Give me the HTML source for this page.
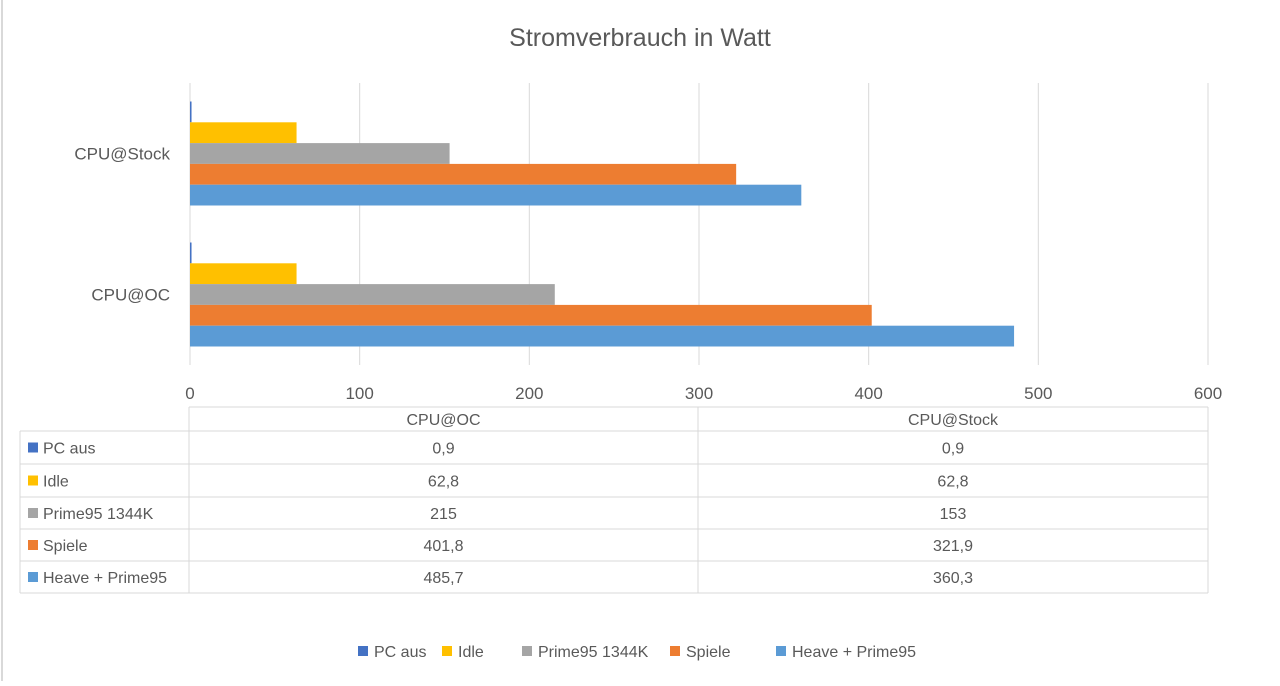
<!DOCTYPE html>
<html><head><meta charset="utf-8"><style>
body{margin:0;background:#fff;font-family:"Liberation Sans","DejaVu Sans",sans-serif;color:#595959}
svg text{font-family:"Liberation Sans","DejaVu Sans",sans-serif;fill:#595959}
</style></head><body>
<svg width="1280" height="681">
<line x1="2" y1="0" x2="2" y2="681" stroke="#d9d9d9" stroke-width="2"/>
<text x="640" y="46" font-size="25" text-anchor="middle">Stromverbrauch in Watt</text>
<g id="grid"></g><g id="bars"></g><g id="cats"></g><g id="ticks"></g><g id="table"></g><g id="legend"></g>
</svg>
<script>
const categories=["CPU@Stock","CPU@OC"];
const seriesNames=["PC aus","Idle","Prime95 1344K","Spiele","Heave + Prime95"];
const pcAus=[0.9,0.9];
const idle=[62.8,62.8];
const prime=[153,215];
const spiele=[321.9,401.8];
const heave=[360.3,485.7];
const tickValues=[0,100,200,300,400,500,600];
const tableCats=["CPU@OC","CPU@Stock"];
const tableVals=[["0,9","0,9"],["62,8","62,8"],["215","153"],["401,8","321,9"],["485,7","360,3"]];
const colors=["#4472c4","#ffc000","#a5a5a5","#ed7d31","#5b9bd5"];
const series=[pcAus,idle,prime,spiele,heave];
const NS="http://www.w3.org/2000/svg";
const X0=190,X1=1208,MAX=600,TOP=83,BOT=365;
const x=v=>X0+(v/MAX)*(X1-X0);
const band=(BOT-TOP)/categories.length, bh=20.8, pad=(band-bh*5)/2;
function mk(t,a,p){const e=document.createElementNS(NS,t);for(const k in a)e.setAttribute(k,a[k]);document.getElementById(p).appendChild(e);return e;}
tickValues.forEach(v=>{
 const l=mk("line",{x1:x(v),x2:x(v),y1:TOP,y2:BOT,stroke:"#d9d9d9"},"grid");
 
 
 const t=mk("text",{x:x(v),y:399,"font-size":17,"text-anchor":"middle"},"ticks");
 t.textContent=v;
 
 
});
categories.forEach((c,i)=>{
 const y0=TOP+i*band+pad;
 series.forEach((s,j)=>{
  const r=mk("rect",{x:X0,y:y0+j*bh,width:x(s[i])-X0,height:bh,fill:colors[j]},"bars");
  
  
 });
 const t=mk("text",{x:170,y:TOP+i*band+band/2+6,"font-size":17,"text-anchor":"end"},"cats");
 t.textContent=c;
 
 
});
// table
const rowsY=[407,431,464,497,529,561,593];
const cx=[20,189,698,1208];
const ln=(a,b,c,d)=>{const l=mk("line",{x1:a,y1:b,x2:c,y2:d,stroke:"#d9d9d9"},"table");};
ln(189,407,1208,407);
for(let r=1;r<rowsY.length;r++)ln(20,rowsY[r],1208,rowsY[r]);
ln(20,431,20,593);ln(189,407,189,593);ln(698,407,698,593);ln(1208,407,1208,593);
tableCats.forEach((c,i)=>{
 const t=mk("text",{x:(cx[i+1]+cx[i+2])/2,y:425,"font-size":16,"text-anchor":"middle"},"table");
 t.textContent=c;
 
 
});
seriesNames.forEach((n,j)=>{
 const yc=(rowsY[j+1]+rowsY[j+2])/2;
 const k=mk("rect",{x:28,y:yc-5,width:10,height:10,fill:colors[j]},"table");
 
 
 const t=mk("text",{x:43,y:yc+6,"font-size":16},"table");
 t.textContent=n;
 
 
 tableVals[j].forEach((v,i)=>{
  const c=mk("text",{x:(cx[i+1]+cx[i+2])/2,y:yc+6,"font-size":16,"text-anchor":"middle"},"table");
  c.textContent=v;
  
  
 });
});
// legend
const lx=[358,442,522,670,776];
seriesNames.forEach((n,j)=>{
 const k=mk("rect",{x:lx[j],y:646,width:10,height:10,fill:colors[j]},"legend");
 
 
 const t=mk("text",{x:lx[j]+16,y:657,"font-size":16},"legend");
 t.textContent=n;
 
 
});
</script>
</body></html>
